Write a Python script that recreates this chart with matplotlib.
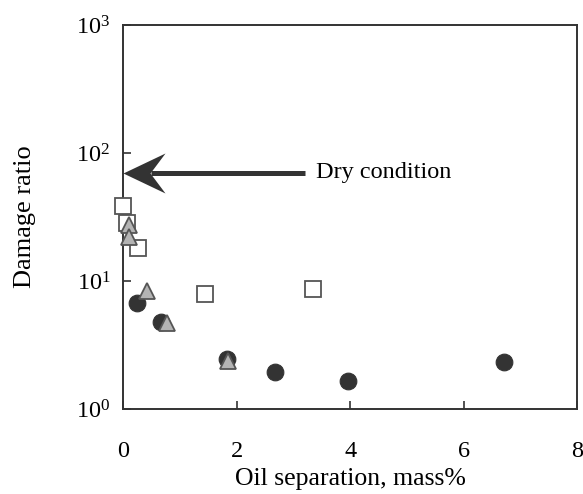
import matplotlib
matplotlib.use('Agg')
import matplotlib.pyplot as plt
from matplotlib.path import Path

plt.rcParams['font.family'] = 'Liberation Serif'
plt.rcParams['mathtext.fontset'] = 'custom'
plt.rcParams['mathtext.rm'] = 'Liberation Serif'

# oil separation (mass%) vs damage ratio, three grease series
circle_x = [0.25, 0.67, 1.84, 2.67, 3.96, 6.71]
circle_y = [6.7, 4.8, 2.44, 1.94, 1.66, 2.33]

triangle_x = [0.10, 0.10, 0.42, 0.77, 1.85]
triangle_y = [27.4, 22.1, 8.4, 4.72, 2.38]

square_x = [0.0, 0.07, 0.26, 1.45, 3.35]
square_y = [38.7, 28.5, 18.3, 7.9, 8.66]

dry_y = 70
dry_tail_x = 3.2

fig = plt.figure(figsize=(5.83, 4.94), dpi=100)
ax = fig.add_axes([0.211, 0.172, 0.779, 0.777])

ax.plot(square_x, square_y, 's', ms=11, mfc='white', mec='#555555',
        mew=1.3, zorder=3, clip_on=False)
ax.plot(circle_x, circle_y, 'o', ms=12, mfc='#333333', mec='#333333',
        mew=0.8, zorder=4, clip_on=False)
ax.plot(triangle_x, triangle_y, '^', ms=12, mfc='#b4b4b4', mec='#555555',
        mew=1.3, zorder=5, clip_on=False)

# arrow pointing at the dry-condition level on the y axis
ax.plot([0.5, dry_tail_x], [dry_y, dry_y], '-', color='#333333', lw=3.6,
        solid_capstyle='butt', zorder=6)
head = Path([(0, 0), (42, 20), (27, 0), (42, -20), (0, 0)],
            [Path.MOVETO, Path.LINETO, Path.LINETO, Path.LINETO,
             Path.CLOSEPOLY])
ax.plot([0], [dry_y], marker=head, ms=60.5, mfc='#333333', mec='#333333',
        mew=0, zorder=7, clip_on=False)
ax.text(3.4, dry_y, 'Dry condition', fontsize=17.5, va='center', ha='left')

ax.set_yscale('log')
ax.set_xlim(0, 8)
ax.set_ylim(1, 1000)
ax.set_xticks([0, 2, 4, 6, 8])
ax.set_yticks([1, 10, 100, 1000])
ax.yaxis.set_minor_locator(matplotlib.ticker.NullLocator())
ax.tick_params(direction='in', length=6, width=1.2, colors='#333333',
               labelcolor='black', labelsize=17.5)
ax.tick_params(axis='x', pad=23)
ax.tick_params(axis='y', pad=9)
for s in ax.spines.values():
    s.set_linewidth(1.4)
    s.set_color('#333333')

ax.set_xlabel('Oil separation, mass%', fontsize=18.5, labelpad=4)
ax.set_ylabel('Damage ratio', fontsize=19, labelpad=29)

fig.savefig('out.png', dpi=100)
